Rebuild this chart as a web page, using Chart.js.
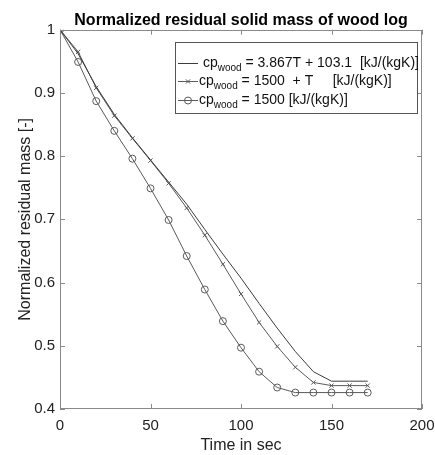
<!DOCTYPE html>
<html>
<head>
<meta charset="utf-8">
<script src="https://cdn.jsdelivr.net/npm/chart.js@4.4.1/dist/chart.umd.min.js"></script>
<style>
    html, body { margin: 0; padding: 0; background: #fff; }
</style>
</head>
<body>
<canvas id="chart" width="435" height="455"></canvas>
<script>
// time axis (s) and the three residual mass curves
const timeSec = [0, 10, 20, 30, 40, 50, 60, 70, 80, 90, 100, 110, 120, 130, 140, 150, 160, 170];
const massCpLinear = [1, 0.962, 0.910, 0.866, 0.829, 0.794, 0.759, 0.724, 0.684, 0.645, 0.607, 0.567, 0.528, 0.491, 0.459, 0.444, 0.444, 0.444];
const massCpPlusT = [1, 0.965, 0.908, 0.864, 0.828, 0.793, 0.757, 0.718, 0.675, 0.629, 0.582, 0.537, 0.499, 0.466, 0.442, 0.437, 0.437, 0.437];
const massCpConst = [1, 0.949, 0.887, 0.840, 0.796, 0.749, 0.699, 0.642, 0.589, 0.539, 0.497, 0.459, 0.434, 0.426, 0.426, 0.426, 0.426, 0.426];

const xTicks = [0, 50, 100, 150, 200];
const yTicks = [0.4, 0.5, 0.6, 0.7, 0.8, 0.9, 1];

const legendLabels = [
    { pre: ' cp', sub: 'wood', post: ' = 3.867T + 103.1  [kJ/(kgK)]' },
    { pre: 'cp', sub: 'wood', post: ' = 1500  + T     [kJ/(kgK)]' },
    { pre: 'cp', sub: 'wood', post: ' = 1500 [kJ/(kgK)]' }
];

const FONT = "'Liberation Sans', Arial, sans-serif";

const toPoints = (ys) => ys.map((v, i) => ({ x: timeSec[i], y: v }));

// MATLAB style box with inward tick marks on all four sides
const boxPlugin = {
    id: 'matlabBox',
    afterDatasetsDraw(chart) {
        const { ctx, chartArea: a, scales } = chart;
        ctx.save();
        ctx.strokeStyle = '#8a8a8a';
        ctx.lineWidth = 1;
        ctx.strokeRect(Math.round(a.left) + 0.5, Math.round(a.top) + 0.5,
            Math.round(a.right - a.left) - 1, Math.round(a.bottom - a.top) - 1);
        ctx.beginPath();
        for (const v of xTicks) {
            const px = Math.round(scales.x.getPixelForValue(v)) + 0.5;
            ctx.moveTo(px, a.bottom); ctx.lineTo(px, a.bottom - 5);
            ctx.moveTo(px, a.top); ctx.lineTo(px, a.top + 5);
        }
        for (const v of yTicks) {
            const py = Math.round(scales.y.getPixelForValue(v)) + 0.5;
            ctx.moveTo(a.left, py); ctx.lineTo(a.left + 5, py);
            ctx.moveTo(a.right, py); ctx.lineTo(a.right - 5, py);
        }
        ctx.stroke();
        ctx.restore();
    }
};

// legend with subscripts (built-in legend can't do those)
const legendPlugin = {
    id: 'subLegend',
    afterDraw(chart) {
        const { ctx, chartArea: a } = chart;
        const right = a.right - 5, top = a.top + 12;
        const left = right - 242, height = 71;
        ctx.save();
        ctx.fillStyle = '#fff';
        ctx.fillRect(left, top, right - left, height);
        ctx.strokeStyle = '#555';
        ctx.lineWidth = 1;
        ctx.strokeRect(Math.round(left) + 0.5, Math.round(top) + 0.5, Math.round(right - left), height);

        chart.data.datasets.forEach((ds, i) => {
            const base = top + 25.5 + i * 18.2;
            const cy = base - 4;
            const x0 = left + 3, x1 = left + 23;
            ctx.strokeStyle = ds.borderColor;
            ctx.lineWidth = 1;
            ctx.beginPath();
            ctx.moveTo(x0, Math.round(cy) + 0.5);
            ctx.lineTo(x1, Math.round(cy) + 0.5);
            ctx.stroke();
            if (ds.pointRadius > 0) {
                ctx.fillStyle = ds.pointBackgroundColor;
                Chart.helpers.drawPoint(ctx, {
                    pointStyle: ds.pointStyle, radius: ds.pointRadius,
                    rotation: 0, borderWidth: 1
                }, (x0 + x1) / 2, Math.round(cy) + 0.5);
            }
            const lab = legendLabels[i];
            let tx = left + 24;
            ctx.fillStyle = '#111';
            ctx.textBaseline = 'alphabetic';
            ctx.textAlign = 'left';
            ctx.font = `14px ${FONT}`;
            ctx.fillText(lab.pre, tx, base);
            tx += ctx.measureText(lab.pre).width;
            ctx.font = `10px ${FONT}`;
            ctx.fillText(lab.sub, tx, base + 4);
            tx += ctx.measureText(lab.sub).width;
            ctx.font = `14px ${FONT}`;
            ctx.fillText(lab.post, tx, base);
        });
        ctx.restore();
    }
};

const ctx = document.getElementById('chart').getContext('2d');
const chart = new Chart(ctx, {
    type: 'line',
    data: {
        datasets: [{
            data: toPoints(massCpLinear),
            borderColor: '#3c3c3c',
            borderWidth: 1,
            pointRadius: 0,
            fill: false
        }, {
            data: toPoints(massCpPlusT),
            borderColor: '#5a5a5a',
            borderWidth: 1,
            pointStyle: 'crossRot',
            pointRadius: 3,
            pointBorderColor: '#5a5a5a',
            pointBackgroundColor: 'rgba(0,0,0,0)',
            pointBorderWidth: 1,
            fill: false
        }, {
            data: toPoints(massCpConst),
            borderColor: '#5a5a5a',
            borderWidth: 1,
            pointStyle: 'circle',
            pointRadius: 3.5,
            pointBorderColor: '#5a5a5a',
            pointBackgroundColor: 'rgba(0,0,0,0)',
            pointBorderWidth: 1,
            fill: false
        }]
    },
    options: {
        responsive: false,
        animation: false,
        layout: { padding: { left: 0, right: 13, top: 0, bottom: 0 } },
        plugins: {
            legend: { display: false },
            tooltip: { enabled: false },
            title: {
                display: true,
                fullSize: false,
                text: 'Normalized residual solid mass of wood log',
                color: '#000',
                font: { family: FONT, size: 16, weight: 'bold' },
                padding: { top: 10.5, bottom: 0 }
            }
        },
        scales: {
            x: {
                type: 'linear',
                min: 0,
                max: 200,
                afterBuildTicks: (s) => { s.ticks = xTicks.map(v => ({ value: v })); },
                afterFit: (s) => { s.height = 46; s.paddingLeft = 0; s.paddingRight = 0; },
                grid: { display: false, drawTicks: false },
                border: { display: false },
                ticks: { color: '#222', font: { family: FONT, size: 15 }, padding: 8, maxRotation: 0 },
                title: {
                    display: true,
                    text: 'Time in sec',
                    color: '#222',
                    font: { family: FONT, size: 16 },
                    padding: { top: 0, bottom: 0 }
                }
            },
            y: {
                type: 'linear',
                min: 0.4,
                max: 1,
                afterBuildTicks: (s) => { s.ticks = yTicks.map(v => ({ value: v })); },
                afterFit: (s) => { s.width = 60; s.paddingTop = 0; s.paddingBottom = 0; },
                grid: { display: false, drawTicks: false },
                border: { display: false },
                ticks: {
                    color: '#222',
                    font: { family: FONT, size: 15 },
                    padding: 5,
                    callback: (v) => String(Number(v.toFixed(1)))
                },
                title: {
                    display: true,
                    text: 'Normalized residual mass [-]',
                    color: '#222',
                    font: { family: FONT, size: 16 },
                    padding: { top: 16, bottom: 0 }
                }
            }
        }
    },
    plugins: [boxPlugin, legendPlugin]
});
</script>
</body>
</html>
